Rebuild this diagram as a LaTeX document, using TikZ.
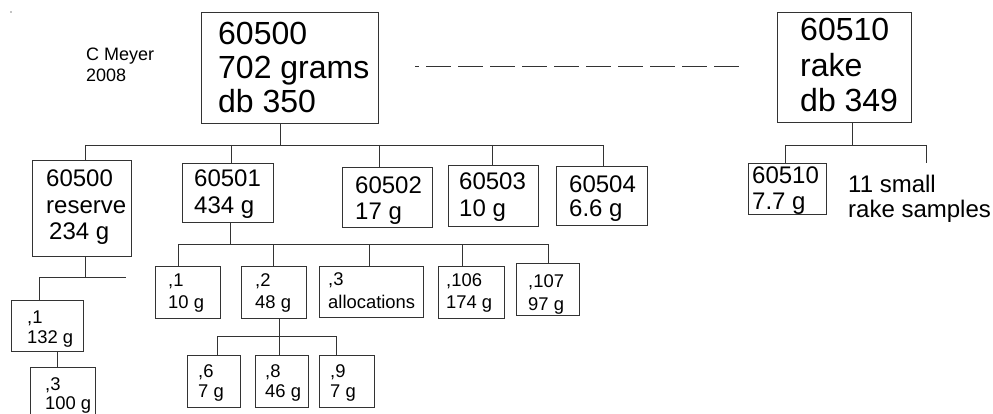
\documentclass[tikz,border=0pt]{standalone}
\usepackage{fontspec}
\setmainfont{Liberation Sans}
\tikzset{
  box/.style={draw=black!80, line width=0.9pt, inner sep=0pt},
  ln/.style={draw=black!80, line width=0.9pt},
  tL/.style={anchor=base west, inner sep=0pt, font=\fontsize{32}{34}\selectfont},
  tM/.style={anchor=base west, inner sep=0pt, font=\fontsize{24}{26}\selectfont},
  tS/.style={anchor=base west, inner sep=0pt, font=\fontsize{18.4}{21}\selectfont},
  tC/.style={anchor=base west, inner sep=0pt, font=\fontsize{18}{21}\selectfont}
}
\begin{document}
\begin{tikzpicture}[x=1pt,y=-1pt]
\useasboundingbox (0,0) rectangle (993,414);
\clip (0,0) rectangle (993,414);
\fill (11,12) circle (0.6pt);
% author
\node[tC] (au1) at (86,61) {C Meyer};
\node[tC] (au2) at (86,82) {2008};
% main box
\node[box, minimum width=177pt, minimum height=111pt] (m) at (289.5,67.5) {};
\node[tL] (m1) at (218,45) {60500};
\node[tL] (m2) at (218,79) {702 grams};
\node[tL] (m3) at (218,113) {db 350};
% rake box
\node[box, minimum width=134pt, minimum height=110pt] (rk) at (844,67) {};
\node[tL] (rk1) at (800,41) {60510};
\node[tL] (rk2) at (800,77) {rake};
\node[tL] (rk3) at (800,112) {db 349};
% dashed link
\coordinate (dA) at (415,66);
\coordinate (dB) at (741,66);
\draw[ln, dash pattern=on 24.6pt off 7.4pt, dash phase=20.6pt] (dA) -- (dB);
% level 2
\node[box, minimum width=99pt, minimum height=96pt] (r) at (81.5,208) {};
\node[tM] (r1) at (46,187) {60500};
\node[tM] (r2) at (46,214) {reserve};
\node[tM] (r3) at (49,240) {234 g};
\node[box, minimum width=91pt, minimum height=59pt] (d1) at (227.5,192.5) {};
\node[tM] (d1a) at (194,187) {60501};
\node[tM] (d1b) at (194,214) {434 g};
\node[box, minimum width=90pt, minimum height=60pt] (d2) at (387,197) {};
\node[tM] (d2a) at (355,194) {60502};
\node[tM] (d2b) at (355,220) {17 g};
\node[box, minimum width=90pt, minimum height=61pt] (d3) at (493,195.5) {};
\node[tM] (d3a) at (459,190) {60503};
\node[tM] (d3b) at (459,216) {10 g};
\node[box, minimum width=91pt, minimum height=59pt] (d4) at (601.5,195.5) {};
\node[tM] (d4a) at (569,193) {60504};
\node[tM] (d4b) at (569,217) {6.6 g};
% rake children
\node[box, minimum width=78pt, minimum height=51pt] (sm) at (787,188.5) {};
\node[tM] (sm1) at (752,184) {60510};
\node[tM] (sm2) at (752,210) {7.7 g};
\node[tM] (rs1) at (848,193) {11 small};
\node[tM] (rs2) at (848,218) {rake samples};
% level 3 under 60501
\node[box, minimum width=65pt, minimum height=52pt] (e1) at (187.5,292) {};
\node[tS] (e1a) at (168,286) {,1};
\node[tS] (e1b) at (168,308) {10 g};
\node[box, minimum width=65pt, minimum height=52pt] (e2) at (273.5,292) {};
\node[tS] (e2a) at (255,286) {,2};
\node[tS] (e2b) at (255,308) {48 g};
\node[box, minimum width=104pt, minimum height=51pt] (e3) at (371,291.5) {};
\node[tS] (e3a) at (328,285) {,3};
\node[tS] (e3b) at (328,308) {allocations};
\node[box, minimum width=66pt, minimum height=52pt] (e4) at (471,292) {};
\node[tS] (e4a) at (446,286) {,106};
\node[tS] (e4b) at (446,308) {174 g};
\node[box, minimum width=63pt, minimum height=52pt] (e5) at (547.5,289) {};
\node[tS] (e5a) at (528,287) {,107};
\node[tS] (e5b) at (528,310) {97 g};
% level 4 under ,2
\node[box, minimum width=53pt, minimum height=52pt] (f1) at (213.5,381) {};
\node[tS] (f1a) at (198,377) {,6};
\node[tS] (f1b) at (198,397) {7 g};
\node[box, minimum width=53pt, minimum height=52pt] (f2) at (281.5,381) {};
\node[tS] (f2a) at (265,377) {,8};
\node[tS] (f2b) at (265,397) {46 g};
\node[box, minimum width=55pt, minimum height=52pt] (f3) at (346.5,381) {};
\node[tS] (f3a) at (330,377) {,9};
\node[tS] (f3b) at (330,397) {7 g};
% reserve chain
\node[box, minimum width=72pt, minimum height=51pt] (g1) at (47,325.5) {};
\node[tS] (g1a) at (27,323) {,1};
\node[tS] (g1b) at (27,343) {132 g};
\node[box, minimum width=65pt, minimum height=56pt] (g2) at (62.5,395) {};
\node[tS] (g2a) at (45,390) {,3};
\node[tS] (g2b) at (45,409) {100 g};
% connectors: main tree
\coordinate (j0) at (280,145);
\coordinate (k1) at (85,145);
\coordinate (k2) at (231,145);
\coordinate (k3) at (379,145);
\coordinate (k4) at (492,145);
\coordinate (k5) at (603,145);
\draw[ln] (j0 |- m.south) -- (j0);
\draw[ln] (k1) -- (k5);
\draw[ln] (k1) -- (k1 |- r.north);
\draw[ln] (k2) -- (k2 |- d1.north);
\draw[ln] (k3) -- (k3 |- d2.north);
\draw[ln] (k4) -- (k4 |- d3.north);
\draw[ln] (k5) -- (k5 |- d4.north);
% under 60501
\coordinate (l0) at (230,244);
\coordinate (l1) at (178,244);
\coordinate (l2) at (273,244);
\coordinate (l3) at (369,244);
\coordinate (l4) at (462,244);
\coordinate (l5) at (548,244);
\draw[ln] (l0 |- d1.south) -- (l0);
\draw[ln] (l1) -- (l5);
\draw[ln] (l1) -- (l1 |- e1.north);
\draw[ln] (l2) -- (l2 |- e2.north);
\draw[ln] (l3) -- (l3 |- e3.north);
\draw[ln] (l4) -- (l4 |- e4.north);
\draw[ln] (l5) -- (l5 |- e5.north);
% under ,2
\coordinate (n1) at (217,336);
\coordinate (n2) at (279,336);
\coordinate (n3) at (336,336);
\draw[ln] (n2 |- e2.south) -- (n2 |- f2.north);
\draw[ln] (n1) -- (n3);
\draw[ln] (n1) -- (n1 |- f1.north);
\draw[ln] (n3) -- (n3 |- f3.north);
% under reserve
\coordinate (p0) at (85,277);
\coordinate (p1) at (39,277);
\coordinate (pe) at (126,277);
\coordinate (q) at (57,360);
\draw[ln] (p0 |- r.south) -- (p0);
\draw[ln] (p1) -- (pe);
\draw[ln] (p1) -- (p1 |- g1.north);
\draw[ln] (q |- g1.south) -- (q |- g2.north);
% rake tree
\coordinate (s0) at (852,145);
\coordinate (s1) at (785,145);
\coordinate (s2) at (926,145);
\coordinate (s2e) at (926,163);
\draw[ln] (s0 |- rk.south) -- (s0);
\draw[ln] (s1) -- (s2);
\draw[ln] (s1) -- (s1 |- sm.north);
\draw[ln] (s2) -- (s2e);
\end{tikzpicture}
\end{document}
